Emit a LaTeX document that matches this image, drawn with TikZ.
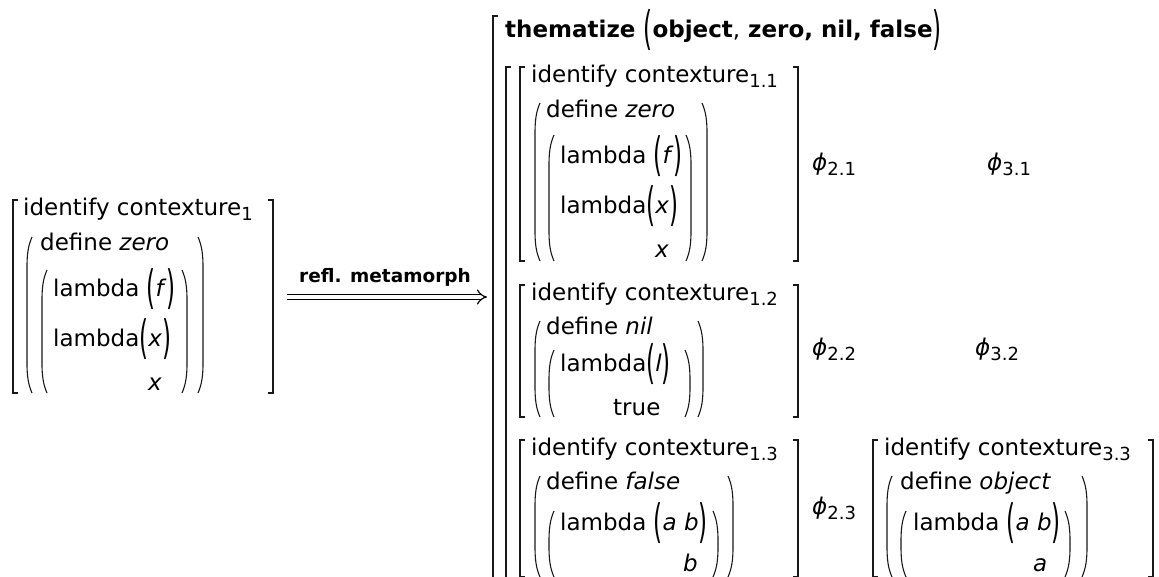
\documentclass[tikz,border=0pt]{standalone}
\usepackage{fontspec}
\setmainfont{DejaVu Sans}
\usepackage{graphicx}
\usepackage{tikz}
\usetikzlibrary{arrows.meta}
% brackets and parens, x / top / bottom
\newcommand\lbrk[3]{\draw[brk] (#1+5,#2) -- (#1,#2) -- (#1,#3) -- (#1+5,#3);}
\newcommand\rbrk[3]{\draw[brk] (#1-5,#2) -- (#1,#2) -- (#1,#3) -- (#1-5,#3);}
\newcommand\lprn[3]{\draw[prn] (#1+5,#2) .. controls (#1+1,#2+9) and (#1,#2+18) .. (#1,#2+30)
  -- (#1,#3-30) .. controls (#1,#3-18) and (#1+1,#3-9) .. (#1+5,#3);}
\newcommand\rprn[3]{\draw[prn] (#1-5,#2) .. controls (#1-1,#2+9) and (#1,#2+18) .. (#1,#2+30)
  -- (#1,#3-30) .. controls (#1,#3-18) and (#1-1,#3-9) .. (#1-5,#3);}
\newcommand\tallp[1]{\raisebox{-7.5pt}{\scalebox{1}[2]{\mdseries\upshape#1}}}
\newcommand\ctxsub[1]{\raisebox{-5pt}{\fontsize{18}{18}\selectfont#1}}
\tikzset{
  txt/.style={anchor=base west,inner sep=0pt,font=\fontsize{23}{27}\selectfont},
  thm-txt/.style={txt,font=\fontsize{23}{27}\selectfont\bfseries},
  lbl/.style={anchor=base,inner sep=0pt,font=\fontsize{18.5}{20}\selectfont\bfseries},
  brk/.style={line width=1.5pt,draw=black!90},
  prn/.style={line width=1.1pt,draw=black!90},
  implies/.style={double distance=4pt,line width=1.2pt,-{Implies}},
}

\begin{document}
\begin{tikzpicture}[x=1pt,y=-1pt]
  \useasboundingbox (0,0) rectangle (1159,576);
  \clip (0,0) rectangle (1159,576);
  % left: contexture 1
  \lbrk{13}{200}{393} \rbrk{273}{200}{393}
  \lprn{27}{237}{393} \rprn{203}{237}{393}
  \lprn{42}{270}{393} \rprn{187}{270}{393}
  \node[txt] (ctx1)  at (23,215)  {identify contexture\ctxsub{1}};
  \node[txt] (def1)  at (40,250)  {define \textit{zero}};
  \node[txt] (lam1f) at (53,296)  {lambda \tallp{(}\textit{f}\tallp{)}};
  \node[txt] (lam1x) at (53,346)  {lambda\tallp{(}\textit{x}\tallp{)}};
  \node[txt] (var1)  at (148,390) {\textit{x}};

  % arrow
  \coordinate (arr-s) at (287,297);
  \coordinate (arr-e) at (487,297);
  \node[lbl] (refl) at (385,282) {refl. metamorph};
  \draw[implies] (arr-s) -- (arr-e);

  % right: thematize
  \lbrk{493}{16}{600}
  \node[thm-txt] (thm) at (505,37)
    {thematize \tallp{(}object\textmd{,} zero, nil, false\tallp{)}};
  \lbrk{506}{67}{600}

  % contexture 1.1
  \lbrk{520}{67}{261} \rbrk{798}{67}{261}
  \lprn{535}{103}{261} \rprn{707}{103}{261}
  \lprn{549}{135}{261} \rprn{691}{135}{261}
  \node[txt] (ctx11)  at (531,82)  {identify contexture\ctxsub{1.1}};
  \node[txt] (def11)  at (546,117) {define \textit{zero}};
  \node[txt] (lam11f) at (560,163) {lambda \tallp{(}\textit{f}\tallp{)}};
  \node[txt] (lam11x) at (560,213) {lambda\tallp{(}\textit{x}\tallp{)}};
  \node[txt] (var11)  at (655,257) {\textit{x}};
  \node[txt] (phi21)  at (812,170) {\textit{ϕ}\ctxsub{2.1}};
  \node[txt] (phi31)  at (987,170) {\textit{ϕ}\ctxsub{3.1}};

  % contexture 1.2
  \lbrk{520}{285}{417} \rbrk{798}{285}{417}
  \lprn{535}{321}{417} \rprn{703}{321}{417}
  \lprn{549}{350}{417} \rprn{690}{350}{417}
  \node[txt] (ctx12) at (531,300) {identify contexture\ctxsub{1.2}};
  \node[txt] (def12) at (546,334) {define \textit{nil}};
  \node[txt] (lam12) at (560,371) {lambda\tallp{(}\textit{l}\tallp{)}};
  \node[txt] (var12) at (613,415) {true};
  \node[txt] (phi22) at (812,355) {\textit{ϕ}\ctxsub{2.2}};
  \node[txt] (phi32) at (975,355) {\textit{ϕ}\ctxsub{3.2}};

  % contexture 1.3
  \lbrk{520}{440}{577} \rbrk{798}{440}{577}
  \lprn{535}{476}{577} \rprn{733}{476}{577}
  \lprn{549}{511}{577} \rprn{718}{511}{577}
  \node[txt] (ctx13) at (531,455) {identify contexture\ctxsub{1.3}};
  \node[txt] (def13) at (546,489) {define \textit{false}};
  \node[txt] (lam13) at (560,530) {lambda \tallp{(}\textit{a} \textit{b}\tallp{)}};
  \node[txt] (var13) at (683,571) {\textit{b}};
  \node[txt] (phi23) at (812,514) {\textit{ϕ}\ctxsub{2.3}};

  % contexture 3.3
  \lbrk{873}{440}{577} \rbrk{1153}{440}{577}
  \lprn{887}{476}{577} \rprn{1087}{476}{577}
  \lprn{901}{511}{577} \rprn{1070}{511}{577}
  \node[txt] (ctx33) at (884,455) {identify contexture\ctxsub{3.3}};
  \node[txt] (def33) at (900,489) {define \textit{object}};
  \node[txt] (lam33) at (913,530) {lambda \tallp{(}\textit{a} \textit{b}\tallp{)}};
  \node[txt] (var33) at (1033,571) {\textit{a}};
\end{tikzpicture}
\end{document}
